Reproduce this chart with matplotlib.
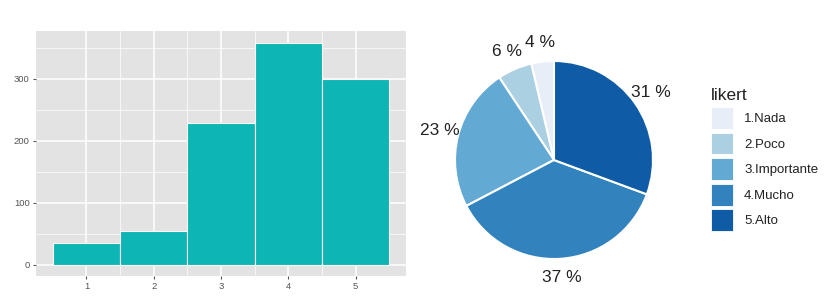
import matplotlib
matplotlib.use("Agg")
import matplotlib.pyplot as plt
from matplotlib.patches import Patch
import numpy as np

# ---- data ----
likert_levels = [1, 2, 3, 4, 5]
counts = [36, 55, 228, 358, 299]
likert_labels = ["1.Nada", "2.Poco", "3.Importante", "4.Mucho", "5.Alto"]
pie_colors = ["#e8eef8", "#abd0e2", "#62a9d4", "#3182bd", "#0f5ba6"]
y_ticks = [0, 100, 200, 300]

plt.rcParams['font.family'] = ['Liberation Sans', 'DejaVu Sans']

W, H = 835, 300
fig = plt.figure(figsize=(W / 100, H / 100), dpi=100)

# ---- histogram-like bar chart (ggplot style) ----
ax = fig.add_axes([36 / W, (H - 276) / H, 370 / W, 245 / H])
ax.set_facecolor("#e3e3e3")
ax.bar(likert_levels, counts, width=1.0, color="#0db5b5", edgecolor="white",
       linewidth=0.8, zorder=3)
ax.set_xlim(0.25, 5.75)
ax.set_ylim(-18, 377)
ax.set_yticks(y_ticks)
ax.set_xticks(likert_levels)
ax.set_yticks([50, 150, 250, 350], minor=True)
ax.set_xticks([1.5, 2.5, 3.5, 4.5], minor=True)
ax.grid(True, which="major", color="white", linewidth=1.1, zorder=1)
ax.grid(True, which="minor", color="white", linewidth=0.5, zorder=1)
for s in ax.spines.values():
    s.set_visible(False)
ax.tick_params(which="major", length=2.5, width=0.8, color="#555555",
               labelsize=6.8, labelcolor="#555555", pad=2)
ax.tick_params(which="minor", length=0)

# ---- pie chart ----
cx, cy, r = 554, 160, 99
pax = fig.add_axes([(cx - r) / W, (H - cy - r) / H, 2 * r / W, 2 * r / H])
wedges, _ = pax.pie(counts, colors=pie_colors, startangle=90, counterclock=True,
                    radius=1.0, wedgeprops=dict(edgecolor="white", linewidth=1.5))
pax.set_xlim(-1, 1)
pax.set_ylim(-1, 1)
pax.set_aspect("auto")
total = sum(counts)
for w, c in zip(wedges, counts):
    ang = np.deg2rad((w.theta1 + w.theta2) / 2)
    pax.text(1.19 * np.cos(ang), 1.19 * np.sin(ang), f"{round(100 * c / total)} %",
             ha="center", va="center", fontsize=12.5, color="#222222", clip_on=False)

# ---- legend ----
handles = [Patch(facecolor=c, edgecolor="white", linewidth=0.6) for c in pie_colors]
leg = fig.legend(handles, likert_labels, title="likert", loc="upper left",
                 bbox_to_anchor=(711 / W, (H - 88) / H), frameon=False,
                 fontsize=9.5, title_fontsize=12.5, handlelength=1.7, handleheight=2.15,
                 labelspacing=0.3, handletextpad=0.8, borderpad=0, borderaxespad=0,
                 alignment="left")
for t in leg.get_texts():
    t.set_color("#222222")
leg.get_title().set_color("#222222")

fig.savefig("out.png", dpi=100)
